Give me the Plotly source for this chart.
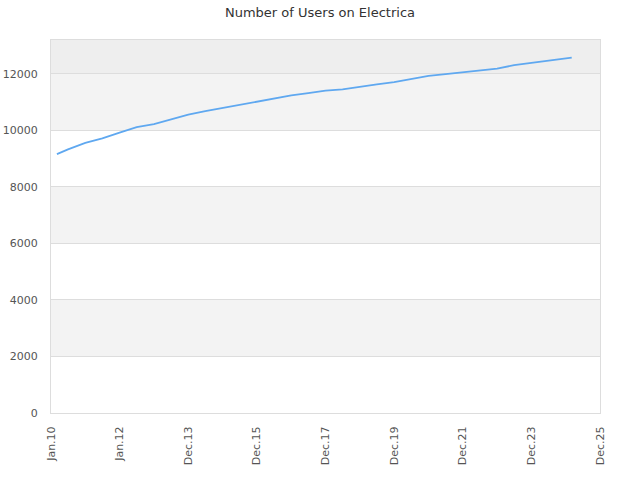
import plotly.graph_objects as go

dates = ["2010-03-05", "2010-07-01", "2011-01-01", "2011-07-01", "2012-01-01", "2012-07-01",
         "2013-01-01", "2013-07-01", "2014-01-01", "2014-07-01", "2015-01-01", "2015-07-01",
         "2016-01-01", "2016-07-01", "2017-01-01", "2017-07-01", "2018-01-01", "2018-07-01",
         "2019-01-01", "2019-07-01", "2020-01-01", "2020-07-01", "2021-01-01", "2021-07-01",
         "2022-01-01", "2022-07-01", "2023-01-01", "2023-07-01", "2024-01-01", "2024-07-01",
         "2025-01-01", "2025-03-05"]
users = [9160, 9330, 9560, 9720, 9920, 10120,
         10220, 10400, 10560, 10680, 10790, 10910,
         11030, 11140, 11240, 11320, 11410, 11455,
         11550, 11630, 11710, 11830, 11930, 11990,
         12060, 12110, 12185, 12310, 12390, 12460,
         12540, 12580]

tick_dates = ["2010-01-01", "2012-01-01", "2013-12-31", "2015-12-31", "2017-12-31",
              "2019-12-31", "2021-12-31", "2023-12-31", "2025-12-31"]
tick_labels = ["Jan.10", "Jan.12", "Dec.13", "Dec.15", "Dec.17", "Dec.19", "Dec.21", "Dec.23", "Dec.25"]

y_ticks = [0, 2000, 4000, 6000, 8000, 10000, 12000]
y_labels = ["0", "2000", "4000", "6000", "8000", "10000", "12000"]
bands = [(2000, 4000, "#f3f3f3"), (6000, 8000, "#f3f3f3"), (10000, 12000, "#f3f3f3"), (12000, 13200, "#eeeeee")]

fig = go.Figure()
fig.add_trace(go.Scatter(x=dates, y=users, mode="lines",
                         line=dict(color="#5fa8f0", width=1.8), hoverinfo="x+y"))

for y0, y1, c in bands:
    fig.add_shape(type="rect", xref="paper", yref="y", x0=0, x1=1, y0=y0, y1=y1,
                  fillcolor=c, line_width=0, layer="below")

fig.update_layout(
    width=640, height=480,
    margin=dict(l=51, r=40, t=40, b=67),
    paper_bgcolor="white", plot_bgcolor="white",
    showlegend=False,
    font=dict(family="DejaVu Sans", size=11, color="#555555"),
    title=dict(text="Number of Users on Electrica", x=0.5, xanchor="center", y=0.975, yanchor="middle",
               font=dict(size=13, color="#333333")),
    xaxis=dict(type="date", range=["2010-01-01", "2025-12-31"], tickmode="array",
               tickvals=tick_dates, ticktext=tick_labels, tickangle=-90, automargin=False,
               showgrid=False, showline=True, linecolor="#dddddd", mirror=True,
               ticks="", zeroline=False, ticklabelstandoff=8, tickfont=dict(size=11, color="#555555")),
    yaxis=dict(range=[0, 13200], tickmode="array", tickvals=y_ticks, ticktext=y_labels,
               showgrid=True, gridcolor="#dddddd", showline=True, linecolor="#dddddd", automargin=False,
               mirror=True, ticks="", zeroline=False, ticklabelstandoff=10,
               tickfont=dict(size=11, color="#555555")),
)

fig.write_html("out.html", config={"displayModeBar": False},
               post_script="document.body.style.margin='0';")
